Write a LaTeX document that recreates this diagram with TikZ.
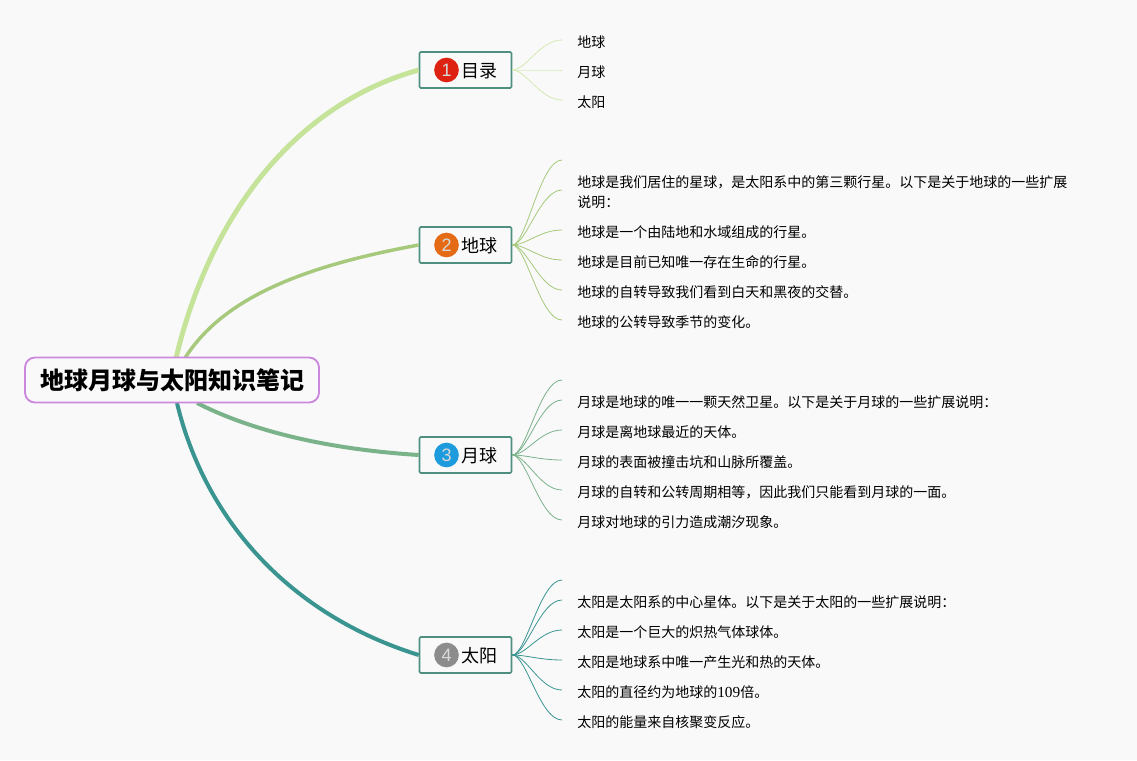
\documentclass[tikz,border=0pt]{standalone}
\usepackage{fontspec}
\setmainfont{Noto Sans CJK SC}
\newfontfamily\digitfont{Liberation Sans}
\newfontfamily\numfont{Liberation Serif}
\usetikzlibrary{calc}
\definecolor{bgcol}{HTML}{F9F9FA}
\definecolor{boxline}{HTML}{4F8F80}
\definecolor{rootline}{HTML}{CC88DD}
\definecolor{muA}{HTML}{C6E39A}
\definecolor{muB}{HTML}{A6C97C}
\definecolor{muC}{HTML}{7AB28A}
\definecolor{muD}{HTML}{3A9490}
\definecolor{badgeA}{HTML}{DD2211}
\definecolor{badgeB}{HTML}{E56A15}
\definecolor{badgeC}{HTML}{1E9BDD}
\definecolor{badgeD}{HTML}{8C8C8C}
\tikzset{
  root/.style={draw=rootline,line width=1.4pt,rounded corners=7.5pt,fill=bgcol,minimum width=220.5pt,minimum height=33.75pt,inner sep=0pt,font=\fontsize{18pt}{20pt}\selectfont\bfseries},
  topic/.style={draw=boxline,line width=1.2pt,rounded corners=1pt,fill=bgcol,minimum width=69pt,minimum height=27pt,inner sep=0pt},
  badge/.style={circle,minimum size=18.5pt,inner sep=0pt,text=white!85!black,font=\digitfont\fontsize{13.5pt}{14pt}\selectfont},
  lbl/.style={font=\fontsize{13.5pt}{15pt}\selectfont,inner sep=0pt},
  leaf/.style={anchor=west,inner xsep=11.25pt,inner ysep=0pt,align=left,font=\fontsize{10.5pt}{15pt}\selectfont},
}
\newcommand{\twig}[3]{\draw[#1,line width=0.6pt] (#2.east) .. controls ($(#2.east)+(14,0)$) and ($(#3.west)+(-22,-2.2)$) .. ($(#3.west)+(0,-2.2)$);}
\begin{document}
\begin{tikzpicture}[x=0.75pt,y=-0.75pt]
  \fill[bgcol] (0,0) rectangle (1137,760);
  \useasboundingbox (0,0) rectangle (1137,760);
  % main branches
  \coordinate (r_1) at (176,358);
  \coordinate (r_2) at (185,358);
  \coordinate (r_3) at (197,403);
  \coordinate (r_4) at (177,403);
  \node[topic] (t_1) at (465.5,70) {};
  \node[topic] (t_2) at (465.5,245) {};
  \node[topic] (t_3) at (465.5,455) {};
  \node[topic] (t_4) at (465.5,655) {};
  \draw[muA,line width=3.7pt] (r_1) .. controls (212,208) and (300,103) .. (t_1.west);
  \draw[muB,line width=2.6pt] (r_2) .. controls (225,295) and (310,265) .. (t_2.west);
  \draw[muC,line width=3pt] (r_3) .. controls (260,435) and (340,450) .. (t_3.west);
  \draw[muD,line width=3pt] (r_4) .. controls (205,520) and (290,615) .. (t_4.west);
  \node[root] (root) at (172,380) {\raisebox{-0.7pt}{地球月球与太阳知识笔记}};
  \node[badge,fill=badgeA] (b_1) at (446.5,70) {1};
  \node[badge,fill=badgeB] (b_2) at (446.5,245) {2};
  \node[badge,fill=badgeC] (b_3) at (446.5,455) {3};
  \node[badge,fill=badgeD] (b_4) at (446.5,655) {4};
  \node[lbl] (l_1) at (479,71) {目录};
  \node[lbl] (l_2) at (479,246) {地球};
  \node[lbl] (l_3) at (479,456) {月球};
  \node[lbl] (l_4) at (479,656) {太阳};
  % leaves
  \node[leaf] (a_1) at (562,42.2) {地球};
  \node[leaf] (a_2) at (562,72.2) {月球};
  \node[leaf] (a_3) at (562,102.2) {太阳};
  \coordinate (c_0) at (562,162.2);
  \node[leaf] (c_1) at (562,192.2) {地球是我们居住的星球，是太阳系中的第三颗行星。以下是关于地球的一些扩展\\说明：};
  \node[leaf] (c_2) at (562,232.2) {地球是一个由陆地和水域组成的行星。};
  \node[leaf] (c_3) at (562,262.2) {地球是目前已知唯一存在生命的行星。};
  \node[leaf] (c_4) at (562,292.2) {地球的自转导致我们看到白天和黑夜的交替。};
  \node[leaf] (c_5) at (562,322.2) {地球的公转导致季节的变化。};
  \coordinate (m_0) at (562,382.2);
  \node[leaf] (m_1) at (562,402.2) {月球是地球的唯一一颗天然卫星。以下是关于月球的一些扩展说明：};
  \node[leaf] (m_2) at (562,432.2) {月球是离地球最近的天体。};
  \node[leaf] (m_3) at (562,462.2) {月球的表面被撞击坑和山脉所覆盖。};
  \node[leaf] (m_4) at (562,492.2) {月球的自转和公转周期相等，因此我们只能看到月球的一面。};
  \node[leaf] (m_5) at (562,522.2) {月球对地球的引力造成潮汐现象。};
  \coordinate (s_0) at (562,582.2);
  \node[leaf] (s_1) at (562,602.2) {太阳是太阳系的中心星体。以下是关于太阳的一些扩展说明：};
  \node[leaf] (s_2) at (562,632.2) {太阳是一个巨大的炽热气体球体。};
  \node[leaf] (s_3) at (562,662.2) {太阳是地球系中唯一产生光和热的天体。};
  \node[leaf] (s_4) at (562,692.2) {太阳的直径约为地球的{\numfont\fontsize{11.5pt}{15pt}\selectfont 109}倍。};
  \node[leaf] (s_5) at (562,722.2) {太阳的能量来自核聚变反应。};
  % twigs
  \foreach \n in {a_1,a_2,a_3} {
    \twig{muA!75!white}{t_1}{\n}
  }
  \foreach \n in {c_0,c_1,c_2,c_3,c_4,c_5} {
    \twig{muB}{t_2}{\n}
  }
  \foreach \n in {m_0,m_1,m_2,m_3,m_4,m_5} {
    \twig{muC}{t_3}{\n}
  }
  \foreach \n in {s_0,s_1,s_2,s_3,s_4,s_5} {
    \twig{muD}{t_4}{\n}
  }
\end{tikzpicture}
\end{document}
